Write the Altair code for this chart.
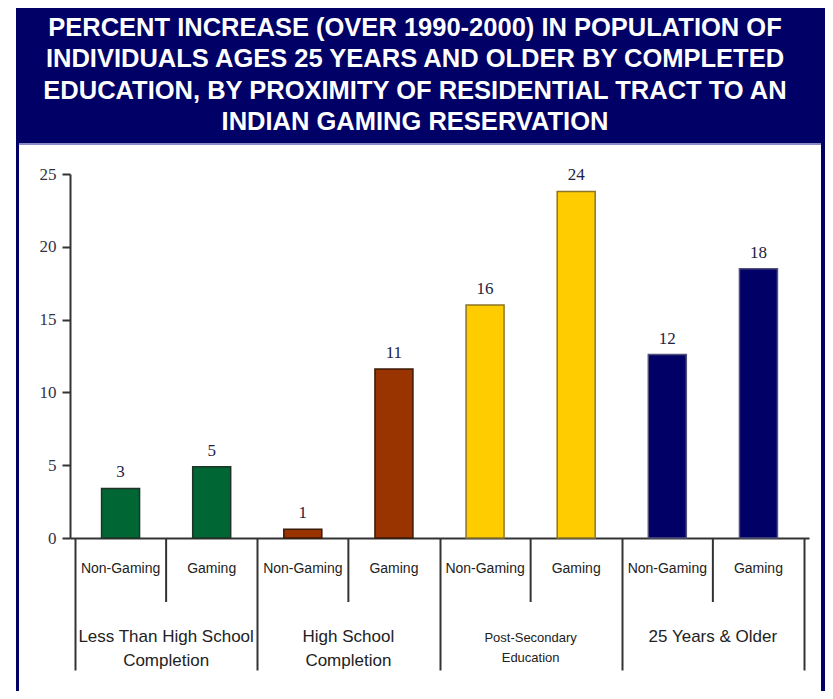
import altair as alt
import pandas as pd

# ---------------- data ----------------
title_lines = [
    "PERCENT INCREASE (OVER 1990-2000) IN POPULATION OF",
    "INDIVIDUALS AGES 25 YEARS AND OLDER BY COMPLETED",
    "EDUCATION, BY PROXIMITY OF RESIDENTIAL TRACT TO AN",
    "INDIAN GAMING RESERVATION",
]
education_groups = [
    "Less Than High School\nCompletion",
    "High School\nCompletion",
    "Post-Secondary\nEducation",
    "25 Years & Older",
]
group_keys = ["lths", "hs", "ps", "all"]
proximity = ["Non-Gaming", "Gaming"]
values = [3.4, 4.9, 0.6, 11.6, 16.0, 23.8, 12.6, 18.5]
value_labels = ["3", "5", "1", "11", "16", "24", "12", "18"]
y_ticks = [0, 5, 10, 15, 20, 25]

# ---------------- styling ----------------
NAVY = "#000066"
fill_colors = ["#006633", "#993300", "#FFCC00", "#000066"]
stroke_colors = ["#1f3326", "#3a1a08", "#8a7628", "#50507a"]
W, H = 739, 364

# ---------------- tables ----------------
rows = []
for i, v in enumerate(values):
    g = i // 2
    rows.append({
        "pos": i + 0.5,
        "value": v,
        "label": value_labels[i],
        "group": group_keys[g],
        "prox": proximity[i % 2],
    })
bars_df = pd.DataFrame(rows)

sub_df = pd.DataFrame({"pos": [i + 0.5 for i in range(8)],
                       "text": [proximity[i % 2] for i in range(8)]})
grp_df = pd.DataFrame({"pos": [1, 3, 5, 7],
                       "text": education_groups,
                       "small": [False, False, True, False]})
short_div = pd.DataFrame({"pos": [1, 3, 5, 7]})
title_df = pd.DataFrame({"text": ["\n".join(title_lines)]})
one = pd.DataFrame({"a": [0]})

xscale = alt.Scale(domain=[0, 8], nice=False, zero=False)
xaxis = alt.Axis(values=[0, 2, 4, 6, 8], tickSize=132, tickWidth=2, tickColor="#333333",
                 domainWidth=2, domainColor="#333333", labels=False, title=None, grid=False)
yscale = alt.Scale(domain=[0, 25], nice=False)
yaxis = alt.Axis(values=y_ticks, tickSize=8, tickWidth=2, tickColor="#333333",
                 domainWidth=2, domainColor="#333333", labelFont="Liberation Serif",
                 labelFontSize=17, labelColor="#333344", labelPadding=6, title=None, grid=False)


def X():
    return alt.X("pos:Q", scale=xscale, axis=xaxis)


def Y():
    return alt.Y("value:Q", scale=yscale, axis=yaxis)


# ---------------- frame ----------------
title_bg = alt.Chart(one).mark_rect(color=NAVY).encode(
    x=alt.value(-54), x2=alt.value(760), y=alt.value(-175), y2=alt.value(-31))
left_border = alt.Chart(one).mark_rect(color=NAVY).encode(
    x=alt.value(-54), x2=alt.value(-51), y=alt.value(-31), y2=alt.value(540))
right_border = alt.Chart(one).mark_rect(color=NAVY).encode(
    x=alt.value(751), x2=alt.value(760), y=alt.value(-31), y2=alt.value(540))
sep_line = alt.Chart(one).mark_rule(color="#8c8cc4", strokeWidth=2).encode(
    x=alt.value(-51), x2=alt.value(751), y=alt.value(-30))

title = alt.Chart(title_df).mark_text(
    font="Liberation Sans", fontWeight="bold", fontSize=25.5, color="white",
    align="center", baseline="alphabetic", lineBreak="\n", lineHeight=31.3,
).encode(x=alt.value(345), y=alt.value(-138), text="text:N")

# ---------------- bars ----------------
bars = alt.Chart(bars_df).mark_bar(width=38, strokeWidth=1.5).encode(
    x=X(), y=Y(),
    color=alt.Color("group:N", scale=alt.Scale(domain=group_keys, range=fill_colors), legend=None),
    stroke=alt.Stroke("group:N", scale=alt.Scale(domain=group_keys, range=stroke_colors), legend=None),
)
bar_labels = alt.Chart(bars_df).mark_text(
    font="Liberation Serif", fontSize=17, color="#222244", baseline="alphabetic", dy=-11,
).encode(x=X(), y=Y(), text="label:N")

short_lines = alt.Chart(short_div).mark_rule(color="#333333", strokeWidth=2).encode(
    x=X(), y=alt.value(H), y2=alt.value(H + 64))

sub_labels = alt.Chart(sub_df).mark_text(
    font="Liberation Sans", fontSize=14, color="#222222", baseline="alphabetic",
).encode(x=X(), y=alt.value(H + 35), text="text:N")

grp_big = alt.Chart(grp_df).transform_filter("!datum.small").mark_text(
    font="Liberation Sans", fontSize=17, color="#222222", baseline="alphabetic",
    lineBreak="\n", lineHeight=24,
).encode(x=X(), y=alt.value(H + 104), text="text:N")
grp_small = alt.Chart(grp_df).transform_filter("datum.small").mark_text(
    font="Liberation Sans", fontSize=13, color="#222222", baseline="alphabetic",
    lineBreak="\n", lineHeight=20,
).encode(x=X(), y=alt.value(H + 104), text="text:N")

chart = alt.layer(
    title_bg, left_border, right_border, sep_line, title,
    bars, bar_labels, short_lines, sub_labels, grp_big, grp_small,
).properties(
    width=W, height=H,
    autosize=alt.AutoSizeParams(type="none"),
    padding={"left": 62, "top": 166, "right": 16, "bottom": 153},
    background="white",
).configure_view(stroke=None)

chart.save("out.html", embed_options={"renderer": "svg", "actions": False})
